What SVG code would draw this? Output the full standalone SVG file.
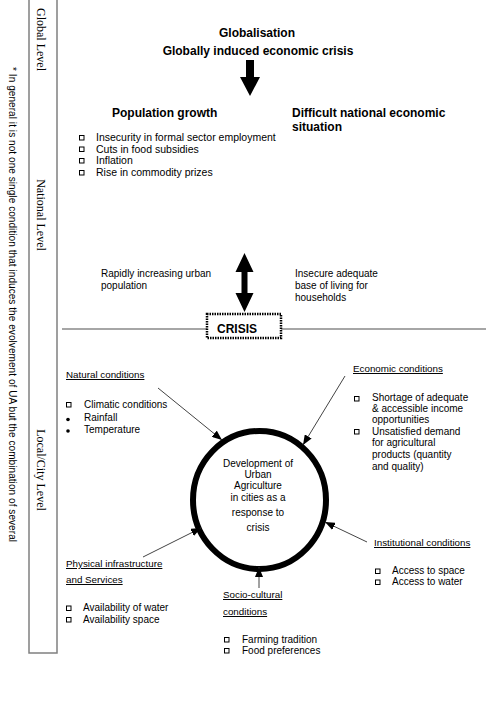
<svg xmlns="http://www.w3.org/2000/svg" width="502" height="722" viewBox="0 0 502 722">
<style>
text{font-family:"Liberation Sans",Arial,sans-serif;fill:#000}
.h{font-weight:bold;font-size:12px}
.b{font-size:10.5px}
.t{font-size:10px}
.u{font-size:9.8px;text-decoration:underline}
.lv{font-family:"Liberation Serif","Times New Roman",serif;font-size:12px}
.sq{fill:none;stroke:#000;stroke-width:1}
.frame{fill:none;stroke:#808080;stroke-width:1.5}
.con{stroke:#444;stroke-width:1;fill:none;marker-end:url(#ah)}
</style>
<defs>
<marker id="ah" markerUnits="userSpaceOnUse" markerWidth="10" markerHeight="8" refX="10" refY="4" orient="auto">
<path d="M0,0 L10,4 L0,8 z" fill="#000"/>
</marker>
</defs>
<rect width="502" height="722" fill="#fff"/>

<g id="levels">
<path class="frame" d="M29,0 V653 H57 V0"/>
<line x1="62" y1="329" x2="486" y2="329" stroke="#888" stroke-width="1.5"/>
<text class="lv" transform="translate(37,8) rotate(90)">Global Level</text>
<text class="lv" text-anchor="middle" transform="translate(37,215) rotate(90)">National Level</text>
<text class="lv" text-anchor="middle" transform="translate(37,470) rotate(90)">Local/City Level</text>
</g>

<g id="footnote">
<text class="t" transform="translate(9,67) rotate(90)" textLength="475" lengthAdjust="spacing">* In general it is not one single condition that induces the evolvement of UA but the combination of several</text>
</g>

<g id="global">
<text class="h" x="257" y="37" text-anchor="middle">Globalisation</text>
<text class="h" x="258" y="55" text-anchor="middle">Globally induced economic crisis</text>
</g>

<g id="national">
<text class="h" x="112" y="117">Population growth</text>
<text class="h" x="292" y="117">Difficult national economic</text>
<text class="h" x="292" y="131">situation</text>
<rect class="sq" x="79.5" y="135.5" width="4.5" height="4.5"/>
<rect class="sq" x="79.5" y="147" width="4.5" height="4.5"/>
<rect class="sq" x="79.5" y="158.5" width="4.5" height="4.5"/>
<rect class="sq" x="79.5" y="170.5" width="4.5" height="4.5"/>
<text class="b" x="96" y="141">Insecurity in formal sector employment</text>
<text class="b" x="96" y="152.5">Cuts in food subsidies</text>
<text class="b" x="96" y="164">Inflation</text>
<text class="b" x="96" y="176">Rise in commodity prizes</text>
<text class="t" x="101" y="277">Rapidly increasing urban</text>
<text class="t" x="101" y="289">population</text>
<text class="t" x="295" y="277">Insecure adequate</text>
<text class="t" x="295" y="289">base of living for</text>
<text class="t" x="295" y="301">households</text>
</g>

<g id="crisis">
<rect x="207" y="314" width="74" height="24" fill="#fff" stroke="#000" stroke-width="2.5" stroke-dasharray="1.5 1"/>
<text class="h" x="217" y="333">CRISIS</text>
</g>

<g id="center">
<ellipse cx="259.5" cy="500" rx="66.5" ry="69" fill="#fff" stroke="#000" stroke-width="6"/>
<text class="t" text-anchor="middle" x="258" y="467">Development of</text>
<text class="t" text-anchor="middle" x="258" y="478">Urban</text>
<text class="t" text-anchor="middle" x="258" y="489">Agriculture</text>
<text class="t" text-anchor="middle" x="258" y="501">in cities as a</text>
<text class="t" text-anchor="middle" x="258" y="516">response to</text>
<text class="t" text-anchor="middle" x="258" y="531">crisis</text>
</g>

<g id="natural">
<text class="u" x="66" y="378">Natural conditions</text>
<rect class="sq" x="66.5" y="402.5" width="4.5" height="4.5"/>
<circle cx="68" cy="419.5" r="1.8"/>
<circle cx="68" cy="431" r="1.8"/>
<text class="t" x="84" y="408">Climatic conditions</text>
<text class="t" x="84" y="421">Rainfall</text>
<text class="t" x="84" y="433">Temperature</text>
</g>

<g id="economic">
<text class="u" x="353" y="372">Economic conditions</text>
<rect class="sq" x="354.5" y="396.5" width="4.5" height="4.5"/>
<rect class="sq" x="354.5" y="429.5" width="4.5" height="4.5"/>
<text class="t" x="372" y="401">Shortage of adequate</text>
<text class="t" x="372" y="412">&amp; accessible income</text>
<text class="t" x="372" y="423">opportunities</text>
<text class="t" x="372" y="435">Unsatisfied demand</text>
<text class="t" x="372" y="446">for agricultural</text>
<text class="t" x="372" y="458">products (quantity</text>
<text class="t" x="372" y="470">and quality)</text>
</g>

<g id="institutional">
<text class="u" x="374" y="546">Institutional conditions</text>
<rect class="sq" x="375.5" y="569" width="4.5" height="4.5"/>
<rect class="sq" x="375.5" y="580" width="4.5" height="4.5"/>
<text class="t" x="392" y="574">Access to space</text>
<text class="t" x="392" y="585">Access to water</text>
</g>

<g id="physical">
<text class="u" x="66" y="567">Physical infrastructure</text>
<text class="u" x="66" y="583">and Services</text>
<rect class="sq" x="66.5" y="606" width="4.5" height="4.5"/>
<rect class="sq" x="66.5" y="617.5" width="4.5" height="4.5"/>
<text class="t" x="83" y="611">Availability of water</text>
<text class="t" x="83" y="622.5">Availability space</text>
</g>

<g id="sociocultural">
<text class="u" x="223" y="598">Socio-cultural</text>
<text class="u" x="223" y="615">conditions</text>
<rect class="sq" x="224.5" y="637.5" width="4.5" height="4.5"/>
<rect class="sq" x="224.5" y="648.5" width="4.5" height="4.5"/>
<text class="t" x="242" y="642.5">Farming tradition</text>
<text class="t" x="242" y="653.5">Food preferences</text>
</g>

<g id="connectors">
<polygon points="246,60 254,60 254,77 260,77 250,96 240,77 246,77" fill="#000"/>
<polygon points="244.5,253 253.5,272 247.5,272 247.5,293 253.5,293 244.5,312 235.5,293 241.5,293 241.5,272 235.5,272" fill="#000"/>
<line class="con" x1="158" y1="388" x2="222" y2="440"/>
<line class="con" x1="345" y1="376" x2="303" y2="445"/>
<line class="con" x1="367" y1="542" x2="325" y2="522"/>
<line class="con" x1="143" y1="557" x2="201" y2="528"/>
<line class="con" x1="259" y1="588" x2="259" y2="567"/>
</g>
</svg>
